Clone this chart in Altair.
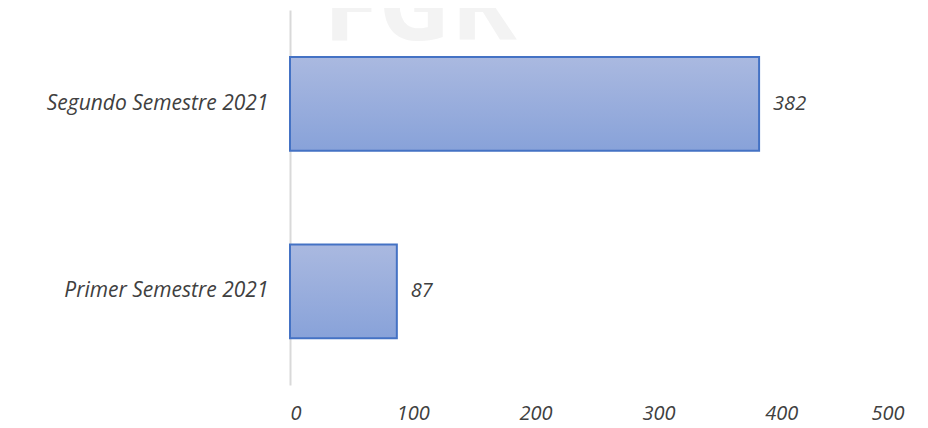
import altair as alt
import pandas as pd

categories = ["Segundo Semestre 2021", "Primer Semestre 2021"]
values = [382, 87]
x_ticks = [0, 100, 200, 300, 400, 500]

df = pd.DataFrame({"cat": categories, "val": values})

FONT = "Open Sans"
TXT = "#404040"
FS = 21

grad = alt.Gradient(
    gradient="linear", x1=0, y1=0, x2=0, y2=1,
    stops=[alt.GradientStop(color="#aab9e0", offset=0),
           alt.GradientStop(color="#88a2d9", offset=1)],
)

base = alt.Chart(df).encode(
    y=alt.Y("cat:N", sort=categories, title=None,
            scale=alt.Scale(paddingInner=0.5, paddingOuter=0.25),
            axis=alt.Axis(domainColor="#d9d9d9", domainWidth=2, ticks=False,
                          labelFont=FONT, labelFontSize=FS, labelFontStyle="italic",
                          labelColor=TXT, labelPadding=22, labelLimit=400)),
    x=alt.X("val:Q", title=None,
            scale=alt.Scale(domain=[0, 500], nice=False),
            axis=alt.Axis(values=x_ticks, domain=False, ticks=False, grid=False,
                          labelFont=FONT, labelFontSize=FS - 1, labelFontStyle="italic",
                          labelColor=TXT, labelPadding=18)),
)

watermark = alt.Chart(pd.DataFrame({"t": ["FGR"]})).mark_text(
    font=FONT, fontSize=100, fontWeight="bold", color="#f3f3f3",
    align="center", baseline="alphabetic",
).encode(text="t:N", x=alt.value(130), y=alt.value(30))

bars = base.mark_bar(color=grad, stroke="#4472c4", strokeWidth=2)
labels = base.mark_text(align="left", baseline="middle", dx=14,
                        font=FONT, fontSize=FS - 1, fontStyle="italic", color=TXT
                        ).encode(text="val:Q")

chart = (watermark + bars + labels).properties(
    width=614, height=375,
    autosize=alt.AutoSizeParams(type="none"),
    padding={"left": 282, "top": 2, "right": 6, "bottom": 40},
).configure_view(stroke=None)

chart.save("out.html", embed_options={"renderer": "svg", "actions": False})
